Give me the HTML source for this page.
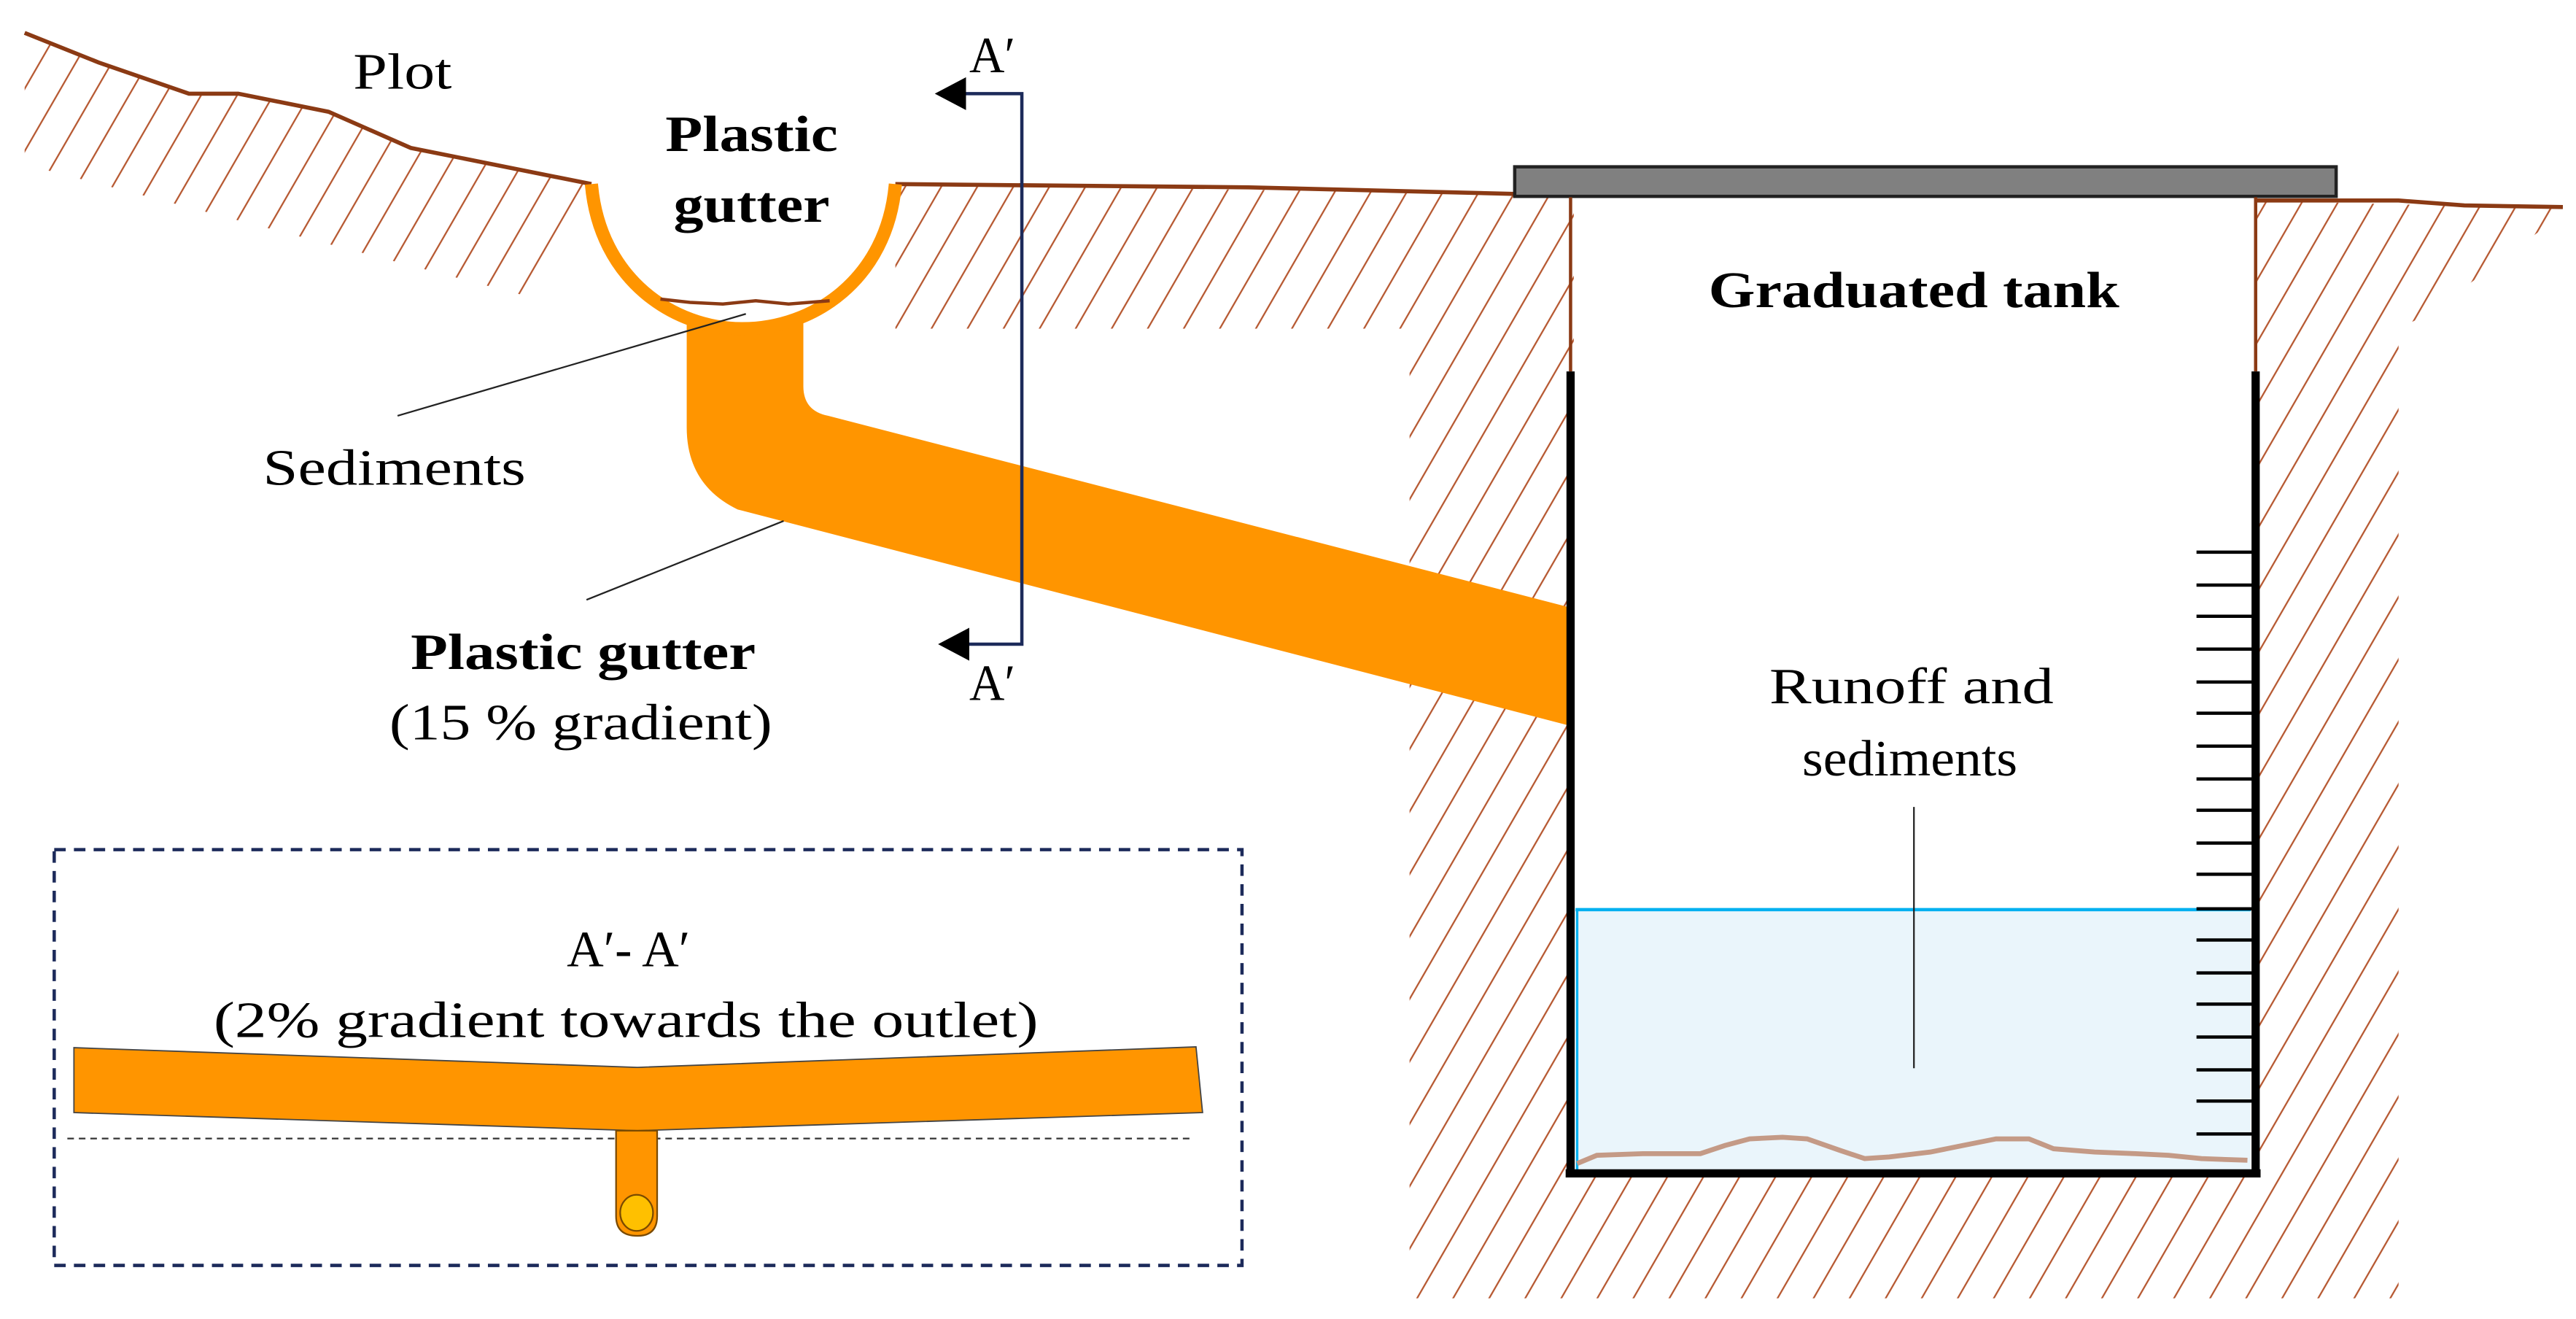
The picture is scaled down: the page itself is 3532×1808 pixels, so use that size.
<!DOCTYPE html>
<html><head><meta charset="utf-8"><style>
html,body{margin:0;padding:0;background:#fff;}
svg{display:block;}
text{font-family:"Liberation Serif",serif;fill:#000;}
</style></head><body>
<svg width="3532" height="1808" viewBox="0 0 1568 802.6" preserveAspectRatio="none" xmlns="http://www.w3.org/2000/svg">
<defs>
<pattern id="h" patternUnits="userSpaceOnUse" width="19" height="19" patternTransform="rotate(30)">
<line x1="2" y1="0" x2="2" y2="19" stroke="#b5562e" stroke-width="1"/>
</pattern>
</defs>
<!-- hatching -->
<polygon points="15,20 60,38 115,57 145,57 200,68 250,90 360,112 320,180 15,100" fill="url(#h)"/>
<polygon points="545,112 920,118 958,120 958,790 858,790 858,200 545,200" fill="url(#h)"/>
<polygon points="1373,122 1560,127 1560,130 1480,190 1460,200 1460,790 958,790 958,716 1373,716" fill="url(#h)"/>
<rect x="958" y="119" width="415" height="597" fill="#fff"/>
<path d="M360,112 C365,170 410,200 452,200 C495,200 540,170 545,112 Z" fill="#fff"/>
<!-- ground lines -->
<polyline points="15,20 60,38 115,57 145,57 200,68 250,90 360,112" fill="none" stroke="#8b3a14" stroke-width="2.5"/>
<polyline points="545,112 760,114 922,118" fill="none" stroke="#8b3a14" stroke-width="2.5"/>
<polyline points="1373,122 1460,122 1500,125 1560,126" fill="none" stroke="#8b3a14" stroke-width="2.5"/>
<!-- pipe -->
<path d="M418,196 L489,196 L489,235 Q489,250 504,253 L957,370 L957,442 L449,310 Q418,295 418,260 Z" fill="#ff9500"/>
<!-- gutter -->
<path d="M360,112 C365,170 410,200 452,200 C495,200 540,170 545,112" fill="none" stroke="#ff9500" stroke-width="8"/>
<path d="M402,182 L420,184 L440,185 L460,183 L480,185 L505,183" fill="none" stroke="#8b3a14" stroke-width="2"/>
<!-- leaders -->
<line x1="242" y1="253" x2="454" y2="191" stroke="#222" stroke-width="1"/>
<line x1="357" y1="365" x2="477" y2="317" stroke="#222" stroke-width="1"/>
<!-- section line -->
<polyline points="588,57 622,57 622,392 588,392" fill="none" stroke="#1c2a5a" stroke-width="2"/>
<polygon points="569,57 588,47 588,67" fill="#000"/>
<polygon points="571,392 590,382 590,402" fill="#000"/>
<text x="590" y="44" font-size="31" textLength="28" lengthAdjust="spacingAndGlyphs">A′</text>
<text x="590" y="426" font-size="31" textLength="28" lengthAdjust="spacingAndGlyphs">A′</text>
<!-- texts left -->
<text x="215" y="54" font-size="31" textLength="60" lengthAdjust="spacingAndGlyphs">Plot</text>
<text x="405" y="92" font-size="31" font-weight="bold" textLength="105" lengthAdjust="spacingAndGlyphs">Plastic</text>
<text x="410" y="135" font-size="31" font-weight="bold" textLength="95" lengthAdjust="spacingAndGlyphs">gutter</text>
<text x="160" y="295" font-size="31" textLength="160" lengthAdjust="spacingAndGlyphs">Sediments</text>
<text x="250" y="407" font-size="31" font-weight="bold" textLength="210" lengthAdjust="spacingAndGlyphs">Plastic gutter</text>
<text x="237" y="450" font-size="31" textLength="233" lengthAdjust="spacingAndGlyphs">(15 % gradient)</text>
<!-- tank -->
<rect x="922" y="101.5" width="500" height="18" fill="#808080" stroke="#222" stroke-width="2"/>
<line x1="956" y1="120" x2="956" y2="226" stroke="#8b3a14" stroke-width="2"/>
<line x1="1373" y1="120" x2="1373" y2="226" stroke="#8b3a14" stroke-width="2"/>
<rect x="959" y="553.5" width="411" height="158" fill="#eaf5fb"/>
<line x1="959" y1="553.5" x2="1370" y2="553.5" stroke="#00b0f0" stroke-width="2"/>
<line x1="960" y1="554" x2="960" y2="712" stroke="#00b0f0" stroke-width="1.5"/>
<path d="M960,708 L972,703 L1000,702 L1035,702 L1050,697 L1065,693 L1085,692 L1100,693 L1120,700 L1135,705 L1150,704 L1175,701 L1195,697 L1215,693 L1235,693 L1250,699 L1275,701 L1300,702 L1320,703 L1340,705 L1368,706" fill="none" stroke="#c49a86" stroke-width="3"/>
<line x1="956" y1="226" x2="956" y2="716" stroke="#000" stroke-width="5"/>
<line x1="1373" y1="226" x2="1373" y2="716" stroke="#000" stroke-width="5"/>
<line x1="953" y1="714" x2="1376" y2="714" stroke="#000" stroke-width="5"/>
<g stroke="#000" stroke-width="2">
<line x1="1337" y1="336" x2="1371" y2="336"/><line x1="1337" y1="356" x2="1371" y2="356"/><line x1="1337" y1="375" x2="1371" y2="375"/><line x1="1337" y1="395" x2="1371" y2="395"/><line x1="1337" y1="415" x2="1371" y2="415"/><line x1="1337" y1="434" x2="1371" y2="434"/><line x1="1337" y1="454" x2="1371" y2="454"/><line x1="1337" y1="474" x2="1371" y2="474"/><line x1="1337" y1="493" x2="1371" y2="493"/><line x1="1337" y1="513" x2="1371" y2="513"/><line x1="1337" y1="532" x2="1371" y2="532"/><line x1="1337" y1="553" x2="1371" y2="553"/><line x1="1337" y1="572" x2="1371" y2="572"/><line x1="1337" y1="592" x2="1371" y2="592"/><line x1="1337" y1="611" x2="1371" y2="611"/><line x1="1337" y1="631" x2="1371" y2="631"/><line x1="1337" y1="651" x2="1371" y2="651"/><line x1="1337" y1="670" x2="1371" y2="670"/><line x1="1337" y1="690" x2="1371" y2="690"/>
</g>
<line x1="1165" y1="491" x2="1165" y2="650" stroke="#222" stroke-width="1"/>
<text x="1040" y="187" font-size="31" font-weight="bold" textLength="250" lengthAdjust="spacingAndGlyphs">Graduated tank</text>
<text x="1077" y="428" font-size="31" textLength="173" lengthAdjust="spacingAndGlyphs">Runoff and</text>
<text x="1097" y="472" font-size="31" textLength="131" lengthAdjust="spacingAndGlyphs">sediments</text>
<!-- inset -->
<rect x="33" y="517" width="723" height="253" fill="none" stroke="#1c2a5a" stroke-width="2" stroke-dasharray="7,5"/>
<text x="345" y="588" font-size="31" textLength="75" lengthAdjust="spacingAndGlyphs">A′- A′</text>
<text x="130" y="631" font-size="31" textLength="502" lengthAdjust="spacingAndGlyphs">(2% gradient towards the outlet)</text>
<polygon points="45,637.5 388,649.5 728,637 732,677 388,688 45,677" fill="#ff9500" stroke="#444" stroke-width="0.8"/>
<line x1="41" y1="692.8" x2="727" y2="692.8" stroke="#333" stroke-width="1" stroke-dasharray="4,3"/>
<path d="M375,688 L400,688 L400,740 Q400,752 388,752 Q375,752 375,740 Z" fill="#ff9500" stroke="#7a4a00" stroke-width="1"/>
<ellipse cx="387.5" cy="738" rx="10" ry="11" fill="#ffc000" stroke="#7a4a00" stroke-width="1"/>
</svg>
</body></html>
